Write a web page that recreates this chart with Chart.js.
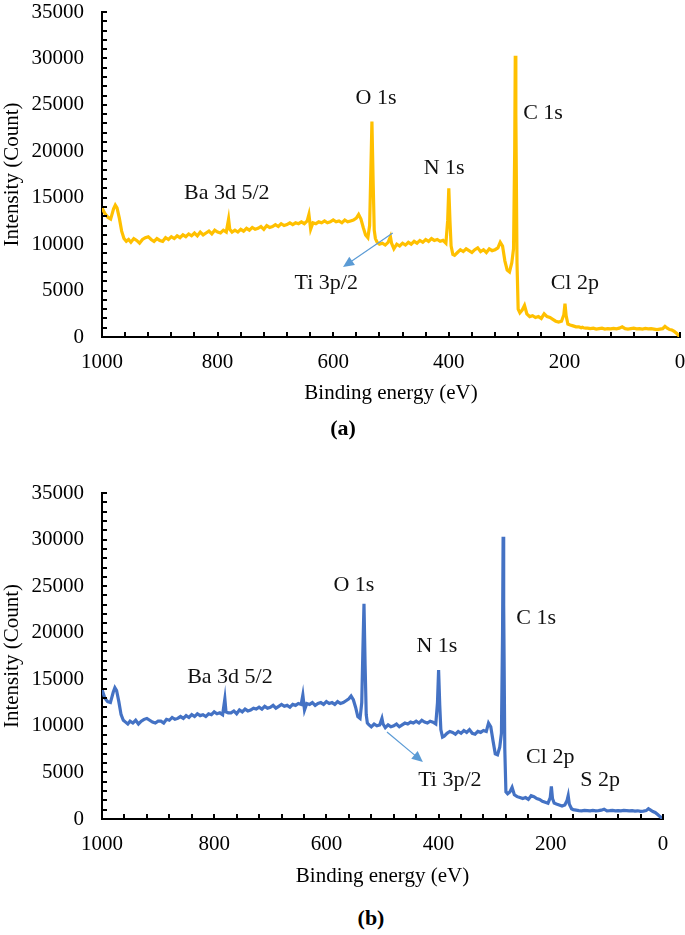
<!DOCTYPE html>
<html><head><meta charset="utf-8">
<script src="https://cdn.jsdelivr.net/npm/chart.js@4.4.0/dist/chart.umd.min.js"></script>
<style>
html,body{margin:0;padding:0;background:#fff;width:685px;height:935px;overflow:hidden;}
#wa{position:absolute;left:0;top:0;width:685px;height:420px;}
#wb{position:absolute;left:0;top:470px;width:685px;height:432px;}
.cap{position:absolute;font-family:"Liberation Serif","Times New Roman",serif;font-weight:bold;font-size:22px;color:#000;transform:translate(-50%,-50%);white-space:nowrap;}
</style></head><body>
<div id="wa"><canvas id="ca" width="685" height="420"></canvas></div>
<div id="wb"><canvas id="cb" width="685" height="432"></canvas></div>
<div class="cap" style="left:343px;top:428px">(a)</div>
<div class="cap" style="left:371px;top:918px">(b)</div>
<script>
// Binding energy grid (eV), shared by both spectra
const bindingEnergy = [
  1000,995,990,985,980,977,974,970,966,962,
  958,954,950,945,940,935,930,925,920,915,910,905,900,
  895,890,885,880,875,870,865,860,855,850,845,840,835,830,825,820,815,810,805,800,795,790,785,
  781,779,775,
  770,765,760,755,750,745,740,735,730,725,720,715,710,705,700,695,690,685,680,675,670,665,660,655,650,645,
  642,639,635,
  630,625,620,615,610,605,600,595,590,585,580,575,570,565,560,
  556,552,548,544,540,537,535,533,531,529,527,524,520,
  515,510,505,501,499,495,490,485,480,475,470,465,460,455,450,445,440,435,430,425,420,415,410,405,
  402,400,398,396,393,390,
  385,380,375,370,365,360,355,350,345,340,335,330,325,320,315,
  311,307,303,299,295,291,288,286,285,284,282,280,277,273,269,265,
  260,255,250,245,240,235,230,225,220,215,210,205,201,
  199,197,194,190,185,180,175,171,169,167,163,160,
  155,150,145,140,135,130,125,120,115,110,105,100,95,90,85,80,75,70,65,60,55,50,45,40,35,30,
  26,22,18,14,10,6,3,0
];
// Intensity (Count), spectrum (a)
const intensityA = [
  13900,13300,12900,12700,13800,14200,13900,12800,11400,10600,
  10300,10500,10200,10600,10400,10100,10500,10700,10800,10500,10300,10600,10400,
  10300,10700,10500,10800,10600,10900,10700,11000,10800,11100,10900,11200,10900,11300,11000,11200,11400,11100,11500,11300,11200,11500,11300,
  12700,11600,11300,
  11500,11300,11600,11400,11700,11500,11800,11600,11700,11900,11600,12000,11800,11900,12100,11900,12200,12000,12100,12300,12100,12300,12200,12400,12200,12500,
  13200,11600,12300,
  12200,12400,12300,12500,12300,12400,12600,12400,12500,12300,12600,12400,12500,12600,12800,
  13200,12700,11800,11000,10700,12000,17500,23200,17000,11500,10600,10200,10000,
  10100,9900,10200,10800,10100,9500,10000,9800,10100,9900,10200,10000,10300,10100,10400,10200,10500,10300,10600,10400,10500,10300,10400,10100,
  12500,16000,12500,9800,8900,8800,
  9100,9400,9200,9500,9300,9100,9400,9600,9200,9400,9100,9500,9300,9400,9600,
  10200,9800,8200,7200,7000,8000,9500,20000,30300,24000,8000,3000,2600,2900,3400,2500,
  2200,2300,2100,2200,2000,2500,2200,2100,1900,1700,1600,1700,2400,
  3600,2300,1400,1300,1200,1100,1100,1000,1050,1000,950,950,
  900,950,850,900,950,850,900,870,930,880,950,1100,900,850,900,950,880,900,850,920,880,900,850,800,850,900,
  1150,950,800,750,600,400,200,0
];
// Intensity (Count), spectrum (b)
const intensityB = [
  13900,13000,12600,12500,13600,14100,13800,12600,11200,10600,
  10400,10200,10500,10300,10600,10200,10500,10700,10800,10600,10400,10300,10500,
  10500,10300,10700,10600,10900,10700,10800,11000,10800,11100,10900,11200,11000,11300,11100,11200,11000,11300,11200,11500,11300,11400,11200,
  12900,11500,11400,
  11400,11600,11300,11700,11500,11800,11600,11700,11900,11800,12000,11800,12100,11900,12000,12200,11900,12100,12300,12100,12200,12000,12300,12200,12400,12300,
  13300,11700,12400,
  12300,12500,12200,12400,12500,12300,12600,12400,12500,12300,12600,12400,12500,12700,12900,
  13200,12800,12000,11000,10800,12500,18000,23100,16500,11200,10300,10100,9900,
  10200,10000,10100,10800,10200,9800,10100,9900,10000,10200,9900,10100,10300,10200,10400,10300,10500,10300,10600,10400,10300,10500,10400,10200,
  12500,16000,12300,9600,8800,8900,
  9200,9400,9300,9100,9400,9200,9500,9300,9600,9200,9100,9400,9300,9500,9400,
  10300,9900,8400,7000,6900,7700,9200,20000,30300,23000,7500,2900,2700,2900,3400,2600,
  2400,2300,2200,2300,2100,2500,2400,2200,2100,1900,1800,1700,2300,
  3500,2200,1700,1600,1500,1400,1500,2000,2500,1600,1100,1000,
  950,900,880,930,900,870,920,880,900,950,1050,880,900,930,870,900,880,920,900,870,900,850,880,820,850,900,
  1100,950,800,700,500,300,150,0
];
const xTicks = [0,200,400,600,800,1000];
const yTicks = [0,5000,10000,15000,20000,25000,30000,35000];

// peak labels (anchored in data space: energy, intensity)
const labelsA = [
  {t:'O 1s', e:526, i:25700},
  {t:'C 1s', e:237, i:24100},
  {t:'N 1s', e:408, i:18200},
  {t:'Ba 3d 5/2', e:784, i:15500},
  {t:'Ti 3p/2', e:612, i:5800},
  {t:'Cl 2p', e:182, i:5800}
];
const arrowA = {e1:497, i1:11200, e2:583, i2:7540};
const labelsB = [
  {t:'O 1s', e:551, i:25100},
  {t:'C 1s', e:226, i:21600},
  {t:'N 1s', e:403, i:18600},
  {t:'Ba 3d 5/2', e:772, i:15250},
  {t:'Ti 3p/2', e:380, i:4190},
  {t:'Cl 2p', e:201, i:6660},
  {t:'S 2p', e:112, i:4190}
];
const arrowB = {e1:492, i1:9340, e2:428, i2:6120};

const FONT = '"Liberation Serif","Times New Roman",serif';

function makeChart(id, values, color, padTop, padRight, titlePadBottom, labels, arrow) {
  const pts = bindingEnergy.map((e, k) => ({x: e, y: values[k]}));
  const deco = {
    id: 'deco' + id,
    afterDatasetsDraw(chart) {
      const {ctx, scales: {x, y}, chartArea: a} = chart;
      ctx.save();
      // inward minor/major tick marks
      ctx.strokeStyle = '#000';
      ctx.lineWidth = 2;
      ctx.beginPath();
      for (let v = 0; v <= 1000; v += 40) {
        const px = Math.round(x.getPixelForValue(v));
        ctx.moveTo(px, a.bottom); ctx.lineTo(px, a.bottom - 5);
      }
      for (let v = 0; v <= 35000; v += 1000) {
        const py = Math.round(y.getPixelForValue(v));
        ctx.moveTo(a.left, py); ctx.lineTo(a.left + 5, py);
      }
      ctx.stroke();
      // labels
      ctx.fillStyle = '#111';
      ctx.font = '22px ' + FONT;
      ctx.textAlign = 'center';
      ctx.textBaseline = 'middle';
      labels.forEach(l => ctx.fillText(l.t, x.getPixelForValue(l.e), y.getPixelForValue(l.i)));
      // arrow
      const x1 = x.getPixelForValue(arrow.e1), y1 = y.getPixelForValue(arrow.i1);
      const x2 = x.getPixelForValue(arrow.e2), y2 = y.getPixelForValue(arrow.i2);
      const ang = Math.atan2(y2 - y1, x2 - x1);
      ctx.strokeStyle = '#5B9BD5';
      ctx.fillStyle = '#5B9BD5';
      ctx.lineWidth = 1.2;
      ctx.beginPath();
      ctx.moveTo(x1, y1);
      ctx.lineTo(x2 - 8 * Math.cos(ang), y2 - 8 * Math.sin(ang));
      ctx.stroke();
      ctx.beginPath();
      ctx.moveTo(x2, y2);
      ctx.lineTo(x2 - 11 * Math.cos(ang) + 5 * Math.sin(ang), y2 - 11 * Math.sin(ang) - 5 * Math.cos(ang));
      ctx.lineTo(x2 - 11 * Math.cos(ang) - 5 * Math.sin(ang), y2 - 11 * Math.sin(ang) + 5 * Math.cos(ang));
      ctx.closePath();
      ctx.fill();
      ctx.restore();
    }
  };
  return new Chart(document.getElementById(id), {
    type: 'line',
    data: {datasets: [{data: pts, borderColor: color, borderWidth: 3.2, pointRadius: 0, tension: 0, fill: false}]},
    options: {
      responsive: false,
      animation: false,
      layout: {padding: {top: padTop, right: padRight, left: 0, bottom: 0}},
      plugins: {legend: {display: false}, tooltip: {enabled: false}},
      scales: {
        x: {
          type: 'linear', reverse: true, min: 0, max: 1000,
          afterBuildTicks: s => { s.ticks = xTicks.map(v => ({value: v})); },
          afterFit: s => { s.height = 83; s.paddingLeft = 0; s.paddingRight = 0; },
          grid: {display: true, drawOnChartArea: false, drawTicks: false},
          border: {display: true, color: '#000', width: 2},
          ticks: {color: '#000', font: {family: FONT, size: 21}, padding: 13, maxRotation: 0, callback: v => String(v)},
          title: {display: true, text: 'Binding energy (eV)', color: '#000', font: {family: FONT, size: 21}, padding: {top: 0, bottom: titlePadBottom}}
        },
        y: {
          type: 'linear', min: 0, max: 35000,
          afterBuildTicks: s => { s.ticks = yTicks.map(v => ({value: v})); },
          afterFit: s => { s.width = 102; s.paddingTop = 0; s.paddingBottom = 0; },
          grid: {display: true, drawOnChartArea: false, drawTicks: false},
          border: {display: true, color: '#000', width: 2},
          ticks: {color: '#000', font: {family: FONT, size: 21}, padding: 18, callback: v => String(v)},
          title: {display: true, text: 'Intensity (Count)', color: '#000', font: {family: FONT, size: 21}, padding: {top: 0, bottom: 0}}
        }
      }
    },
    plugins: [deco]
  });
}

makeChart('ca', intensityA, '#FFC000', 12, 5, 14, labelsA, arrowA);
makeChart('cb', intensityB, '#4472C4', 23, 22, 13, labelsB, arrowB);
</script>
</body></html>
